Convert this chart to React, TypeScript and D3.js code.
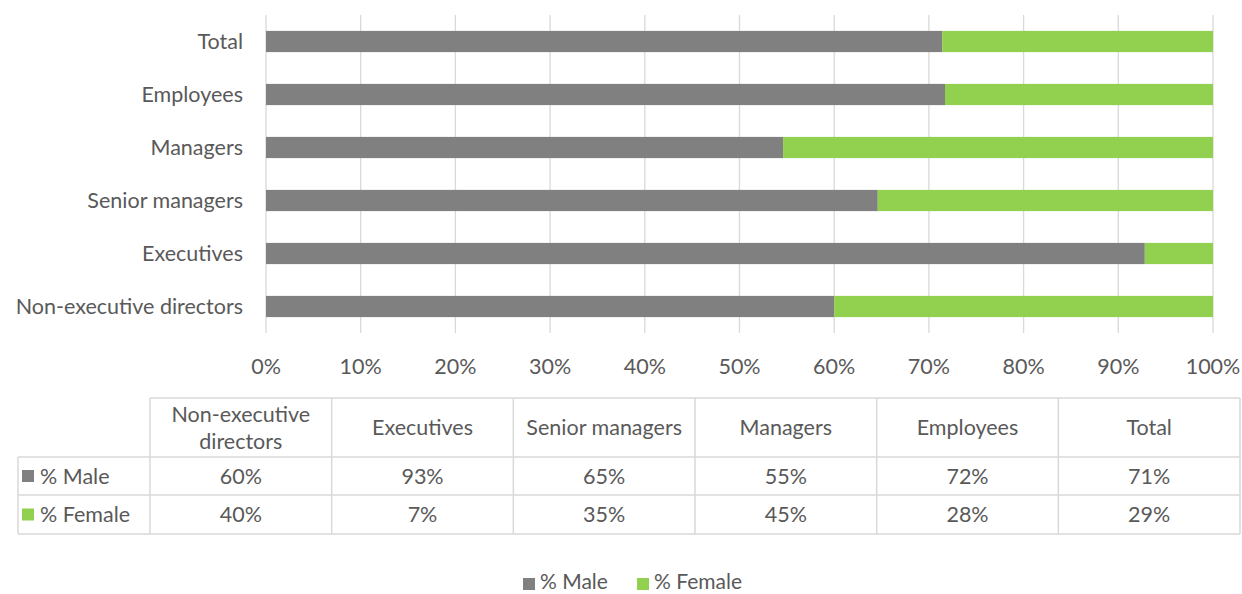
import * as d3 from 'd3';

const categories = ['Non-executive directors', 'Executives', 'Senior managers', 'Managers', 'Employees', 'Total'];
const tableHeaders = [['Non-executive', 'directors'], ['Executives'], ['Senior managers'], ['Managers'], ['Employees'], ['Total']];
const maleValues = [60.0, 92.8, 64.6, 54.6, 71.7, 71.4];
const femaleValues = [40.0, 7.2, 35.4, 45.4, 28.3, 28.6];
const seriesNames = ['% Male', '% Female'];
const seriesColors = ['#808080', '#92d050'];
const xTicks = [0, 10, 20, 30, 40, 50, 60, 70, 80, 90, 100];

const W = 1242;
const H = 594;
const FONT = 'Lato, "Open Sans", sans-serif';
const FS = 21.5;
const TXT = '#595959';
const GRID = '#d9d9d9';

const App = () => {
  const x = d3.scaleLinear().domain([0, 100]).range([266, 1213]);
  // top category first
  const y = d3.scaleBand().domain([...categories].reverse()).range([15, 333]).paddingInner(0.6).paddingOuter(0.3);

  const stack = d3.stack<number>().keys(['0', '1']).value((i, k) => (k === '0' ? maleValues[i] : femaleValues[i]));
  const layers = stack(categories.map((_, i) => i));

  const colX = d3.scaleBand().domain(categories.map((_, i) => String(i))).range([150, 1240]);
  const rowTop = 398;
  const rowY = [398, 457, 495, 534];
  const fmt = (v: number) => `${Math.round(v)}%`;

  return (
    <svg width={W} height={H} style={{ position: 'absolute', left: 0, top: 0, background: '#fff' }} fontFamily={FONT}>
      {xTicks.map((t) => (
        <line key={t} x1={x(t)} x2={x(t)} y1={15} y2={333} stroke={GRID} strokeWidth={1.3} />
      ))}
      {layers.map((layer, li) => (
        <g key={li} fill={seriesColors[li]}>
          {layer.map((d, i) => (
            <rect key={i} x={x(d[0])} y={y(categories[i])} width={x(d[1]) - x(d[0])} height={y.bandwidth()} />
          ))}
        </g>
      ))}
      {categories.map((c) => (
        <text key={c} x={243} y={y(c)! + y.bandwidth() / 2} dy="0.35em" textAnchor="end" fontSize={FS} fill={TXT}>
          {c}
        </text>
      ))}
      {xTicks.map((t) => (
        <text key={t} x={x(t)} y={366} dy="0.35em" textAnchor="middle" fontSize={FS} fill={TXT}>
          {t}%
        </text>
      ))}

      {/* data table */}
      <g stroke={GRID} strokeWidth={1.5} fill="none">
        <line x1={150} x2={1240} y1={rowTop} y2={rowTop} />
        <line x1={18} x2={1240} y1={rowY[1]} y2={rowY[1]} />
        <line x1={18} x2={1240} y1={rowY[2]} y2={rowY[2]} />
        <line x1={18} x2={1240} y1={rowY[3]} y2={rowY[3]} />
        <line x1={18} x2={18} y1={rowY[1]} y2={rowY[3]} />
        {categories.map((_, i) => (
          <line key={i} x1={colX(String(i))} x2={colX(String(i))} y1={rowTop} y2={rowY[3]} />
        ))}
        <line x1={1240} x2={1240} y1={rowTop} y2={rowY[3]} />
      </g>
      {tableHeaders.map((lines, i) => {
        const cx = colX(String(i))! + colX.bandwidth() / 2;
        const cy = (rowY[0] + rowY[1]) / 2;
        return (
          <text key={i} x={cx} textAnchor="middle" fontSize={FS} fill={TXT}>
            {lines.map((l, j) => (
              <tspan key={j} x={cx} y={cy + (j - (lines.length - 1) / 2) * 27} dy="0.35em">
                {l}
              </tspan>
            ))}
          </text>
        );
      })}
      {[maleValues, femaleValues].map((vals, r) => {
        const cy = (rowY[r + 1] + rowY[r + 2]) / 2;
        return (
          <g key={r}>
            <rect x={22} y={cy - 6} width={12} height={12} fill={seriesColors[r]} />
            <text x={40} y={cy} dy="0.35em" fontSize={FS} fill={TXT}>
              {seriesNames[r]}
            </text>
            {vals.map((v, i) => (
              <text key={i} x={colX(String(i))! + colX.bandwidth() / 2} y={cy} dy="0.35em" textAnchor="middle" fontSize={FS} fill={TXT}>
                {fmt(v)}
              </text>
            ))}
          </g>
        );
      })}

      {/* legend */}
      <g>
        <rect x={523} y={578} width={12} height={12} fill={seriesColors[0]} />
        <text x={540} y={582} dy="0.35em" fontSize={21} fill={TXT}>{seriesNames[0]}</text>
        <rect x={637} y={578} width={12} height={12} fill={seriesColors[1]} />
        <text x={654} y={582} dy="0.35em" fontSize={21} fill={TXT}>{seriesNames[1]}</text>
      </g>
    </svg>
  );
};

export default App;
